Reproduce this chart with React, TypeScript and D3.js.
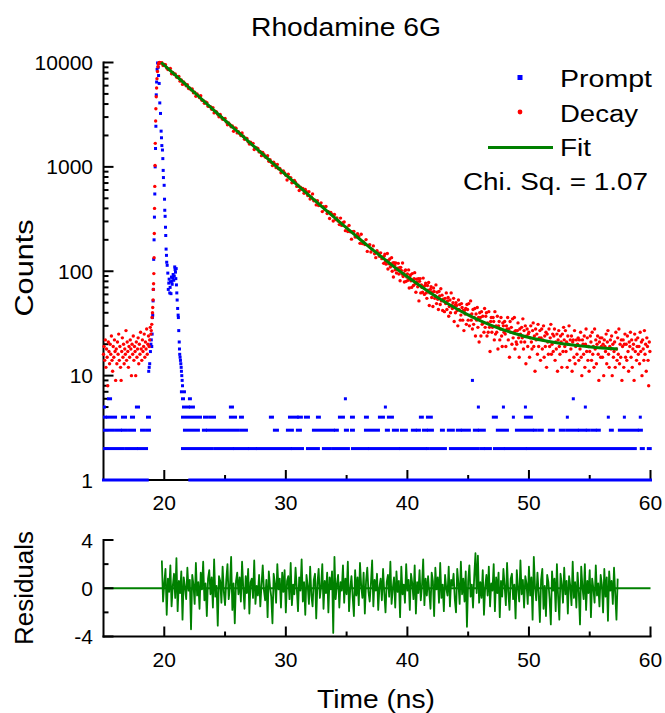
import React from "react";
import * as d3 from "d3";

const FONT = "'Liberation Sans', Arial, Helvetica, sans-serif";

// ---------- Axis ticks ----------
const xMajorTicks = [20, 30, 40, 50, 60];
const xMinorTicks = [25, 35, 45, 55];
const yMajorTicks = [1, 10, 100, 1000, 10000];
const resMajorTicks = [-4, 0, 4];
const resMinorTicks = [-2, 2];

// ---------- Decay (red) ----------
// baseline before the rise: 15.00 ns, step 0.05 ns
const decayBaseStart = 15.0;
const decayBaseStep = 0.05;
const decayBaseline = [
  16, 19, 14, 22, 12, 18, 15, 8, 21, 17,
  13, 20, 16, 24, 14, 11, 19, 15, 22, 17,
  9, 18, 13, 21, 16, 25, 14, 19, 12, 9,
  17, 23, 15, 20, 13, 18, 16, 27, 14, 21,
  17, 12, 19, 15, 22, 18, 10, 20, 16, 24,
  14, 19, 17, 10, 21, 15, 18, 23, 13, 20,
  16, 26, 18, 14, 22, 17, 19, 25, 15, 21,
  18, 28, 16, 20, 24, 19, 22, 29,
];
// rising edge
const decayRiseT = [18.90, 18.93, 18.97, 19.00, 19.03, 19.05, 19.08, 19.10, 19.12, 19.14, 19.16, 19.18, 19.20, 19.22, 19.24, 19.26, 19.29, 19.31, 19.34, 19.37, 19.40, 19.44, 19.48, 19.52, 19.56, 19.60, 19.65, 19.70];
const decayRiseC = [25, 27, 31, 36, 40, 45, 53, 67, 76, 95, 135, 230, 400, 650, 1030, 1680, 2750, 3600, 4700, 5700, 7000, 8200, 9100, 9700, 9900, 10000, 9950, 9900];
// main decay: 19.8 ns, step 0.1 ns
const decayMainStart = 19.8;
const decayMainStep = 0.1;
const decayMain = [
  9953, 9352, 9597, 9527, 8871, 8549, 8557, 8767, 7804, 8032,
  7702, 7763, 7244, 7195, 7338, 6630, 6788, 6168, 6513, 6278,
  5990, 6112, 5633, 5666, 5489, 5585, 5136, 5205, 4755, 4993,
  4801, 4603, 4799, 4352, 4322, 4061, 4199, 4128, 3803, 3798,
  3781, 3571, 3699, 3289, 3404, 3364, 3186, 3023, 3172, 2991,
  2853, 2885, 2912, 2693, 2535, 2629, 2535, 2424, 2468, 2192,
  2359, 2350, 2116, 2169, 2085, 1993, 2113, 1963, 1842, 1887,
  1874, 1740, 1657, 1728, 1648, 1680, 1466, 1519, 1514, 1500,
  1391, 1399, 1281, 1374, 1314, 1245, 1230, 1280, 1133, 1171,
  1105, 1029, 1106, 1054, 983, 1053, 960, 968, 877, 906,
  914, 875, 831, 749, 850, 783, 789, 705, 711, 743,
  710, 650, 669, 593, 640, 613, 620, 559, 607, 578,
  531, 579, 493, 511, 551, 474, 480, 432, 474, 426,
  432, 452, 373, 415, 389, 417, 357, 371, 320, 366,
  350, 303, 350, 312, 324, 303, 280, 323, 275, 292,
  296, 245, 263, 240, 275, 239, 203, 239, 241, 213,
  214, 229, 215, 185, 226, 184, 191, 180, 201, 155,
  177, 180, 153, 162, 175, 147, 135, 157, 150, 139,
  150, 132,
];
// tail: 38.0 ns, step 0.05 ns
const decayTailStart = 38.0;
const decayTailStep = 0.05;
const decayTailA = [
  137, 119, 140, 146, 124, 117, 127, 148, 105, 127, 118, 131, 110, 117, 135, 100, 120, 88, 121, 114,
  103, 120, 96, 107, 103, 119, 94, 108, 81, 109, 102, 94, 120, 89, 95, 79, 101, 103, 80, 88,
  94, 82, 103, 69, 88, 92, 81, 70, 95, 82, 73, 85, 97, 76, 63, 84, 79, 71, 85, 52,
  80, 85, 62, 74, 70, 63, 86, 71, 60, 73, 77, 62, 55, 73, 66, 78, 47, 62, 67, 71,
  56, 63, 46, 69, 64, 55, 58, 74, 49, 63, 54, 43, 64, 58, 48, 68, 52, 59, 42, 54,
  52, 41, 55, 49, 62, 43, 52, 56, 37, 46, 53, 40, 62, 47, 44, 50, 55, 33, 47, 40,
  50, 47, 42, 30, 53, 43, 48, 34, 38, 49, 45, 34, 42, 27, 42, 39, 44, 31, 48, 43,
  34, 49, 30, 38, 52, 34, 39, 28, 43, 31, 36, 44, 24, 39, 34, 45, 29, 36, 21, 40,
  36, 24, 41, 31, 37, 32, 26, 44, 29, 37, 40, 24, 32, 26, 41, 29, 17, 33, 36, 26,
  29, 36, 33, 22, 41, 25, 30, 26, 37, 18, 30, 33, 22, 28, 36, 24, 19, 32, 30, 26,
];
const decayTailB = [
  33, 25, 19, 30, 28, 36, 22, 28, 15, 33, 26, 29, 20, 35, 23, 26, 36, 18, 27, 21,
  20, 27, 32, 23, 15, 28, 25, 21, 29, 23, 35, 18, 27, 21, 30, 13, 24, 28, 19, 25,
  26, 15, 23, 30, 21, 18, 27, 32, 19, 24, 11, 28, 22, 25, 16, 31, 19, 23, 27, 14,
  23, 28, 18, 22, 30, 15, 24, 19, 26, 12, 25, 21, 16, 28, 19, 23, 31, 16, 20, 25,
  17, 24, 28, 14, 21, 18, 25, 11, 22, 27, 19, 16, 24, 21, 12, 25, 17, 29, 22, 19,
  27, 17, 21, 12, 24, 20, 30, 14, 22, 18, 24, 11, 21, 22, 15, 27, 13, 19, 22, 16,
  20, 23, 14, 22, 18, 26, 15, 10, 22, 20, 16, 24, 12, 20, 28, 17, 23, 14, 19, 11,
  17, 24, 21, 14, 26, 16, 19, 12, 28, 18, 22, 13, 20, 24, 16, 9, 21, 23, 15, 19,
  23, 15, 20, 10, 22, 19, 17, 25, 13, 21, 27, 16, 12, 19, 22, 18, 24, 10, 20, 15,
  17, 21, 12, 26, 18, 14, 23, 16, 28, 13, 20, 15, 22, 9, 19, 22, 12, 20, 25, 15,
  20, 14, 24, 17, 11, 21, 19, 26, 15, 22, 12, 18, 20, 9, 25, 17, 22, 14, 19, 23,
  16, 19, 13, 26, 17, 21, 10, 22, 18, 14, 27, 16, 20, 11, 23, 19, 14, 8, 21, 17,
];

// ---------- Fit (green) ----------
const fitT = [19.75, 20.75, 21.75, 22.75, 23.75, 24.75, 25.75, 26.75, 27.75, 28.75, 29.75, 30.75, 31.75, 32.75, 33.75, 34.75, 35.75, 36.75, 37.75, 38.75, 39.75, 40.75, 41.75, 42.75, 43.75, 44.75, 45.75, 46.75, 47.75, 48.75, 49.75, 50.75, 51.75, 52.75, 53.75, 54.75, 55.75, 56.75, 57.3];
const fitC = [10000, 7853, 6157, 4828, 3787, 2971, 2332, 1831, 1438, 1131, 890, 701, 553, 437, 346, 275, 219, 175, 141, 114, 93, 76.6, 63.7, 53.6, 45.7, 39.5, 34.6, 30.8, 27.8, 25.5, 23.6, 22.2, 21.1, 20.2, 19.5, 19.0, 18.5, 18.2, 18.0];

// ---------- Prompt (blue) ----------
const promptPeakT = [
  18.72, 18.76, 18.80, 18.86, 18.90, 18.93, 18.97, 19.00, 19.02, 19.05,
  19.08, 19.10, 19.13, 19.16, 19.19, 19.22, 19.25, 19.28, 19.31, 19.34,
  19.37, 19.41, 19.45, 19.50, 19.53, 19.58, 19.63, 19.69, 19.74, 19.77,
  19.80, 19.85, 19.88, 19.91, 19.93, 19.99, 20.02, 20.04, 20.07, 20.10,
  20.12, 20.15, 20.18, 20.20, 20.24, 20.29, 20.33, 20.37, 20.40, 20.45,
  20.48, 20.51, 20.55, 20.59, 20.62, 20.65, 20.69, 20.73, 20.78, 20.82,
  20.86, 20.89, 20.92, 20.95, 20.98, 21.00, 21.03, 21.06, 21.10, 21.14,
  21.16, 21.19, 21.23, 21.25, 21.27, 21.30, 21.33, 21.36, 21.39, 21.41,
  21.44, 21.47, 21.50,
];
const promptPeakC = [
  11, 12, 13, 17, 20, 22, 19, 25, 36, 38,
  52, 67, 130, 200, 330, 550, 1000, 1500, 2450, 4900,
  6500, 8600, 9900, 9000, 7500, 6300, 4100, 3250, 2200, 1900,
  1600, 1450, 1200, 925, 790, 666, 490, 384, 336, 264,
  220, 163, 142, 122, 114, 96, 67, 77, 84, 62,
  70, 79, 61, 88, 80, 75, 86, 93, 82, 90,
  110, 104, 98, 85, 106, 74, 62, 53, 44, 38,
  36, 27, 21, 18, 16, 15, 14, 13, 12, 11,
  10, 9, 8,
];
// runs of equal low counts: [start ns, end ns]
const promptRuns1 = [[15.0, 18.6], [22.1, 60.0]];
const promptRuns2 = [[15.08, 16.64], [16.89, 17.71], [17.88, 18.54], [21.50, 23.96], [24.21, 25.61], [25.77, 26.84], [27.01, 27.50], [27.66, 30.38], [30.54, 31.37], [31.78, 32.68], [33.09, 33.67], [33.92, 35.15], [35.48, 36.71], [36.88, 39.26], [39.43, 41.48], [41.65, 41.73], [41.97, 43.13], [43.54, 45.84], [46.09, 46.25], [46.42, 46.83], [47.16, 47.90], [48.06, 49.71], [49.87, 58.75], [59.24, 59.41], [59.82, 59.98]];
const promptRuns3 = [[15.08, 15.82], [16.07, 16.40], [16.56, 16.89], [17.14, 17.55], [18.13, 18.29], [18.54, 18.78], [21.66, 22.81], [23.22, 23.39], [23.55, 25.20], [25.44, 26.10], [26.35, 26.76], [29.06, 29.31], [30.13, 30.54], [30.95, 31.20], [32.27, 33.92], [34.08, 34.24], [34.90, 35.07], [35.40, 35.56], [36.55, 37.62], [38.27, 38.44], [38.85, 39.18], [39.51, 39.92], [40.41, 40.66], [40.82, 40.99], [41.32, 41.56], [41.73, 42.06], [42.80, 42.96], [43.37, 43.78], [44.11, 44.36], [44.52, 45.10], [45.51, 45.76], [45.92, 46.33], [47.40, 48.23], [48.97, 50.28], [50.45, 50.61], [50.86, 51.10], [51.68, 52.01], [52.58, 52.91], [53.16, 53.98], [54.15, 54.64], [54.80, 54.97], [55.22, 55.46], [55.63, 55.79], [56.70, 56.86], [57.44, 58.92], [59.08, 59.25]];
const promptRuns4 = [[15.08, 15.16], [15.33, 15.99], [16.56, 16.81], [17.30, 17.47], [18.62, 18.78], [21.50, 22.98], [23.31, 23.55], [23.80, 24.13], [25.44, 25.86], [26.27, 26.43], [28.73, 28.90], [30.30, 30.95], [31.04, 31.28], [31.61, 31.86], [32.60, 32.76], [34.41, 34.74], [35.40, 35.56], [36.55, 36.71], [37.70, 38.03], [38.44, 38.77], [41.07, 41.23], [41.65, 41.97], [47.07, 47.32], [48.72, 48.72], [49.71, 50.20], [53.16, 53.16], [56.53, 56.53], [57.85, 57.85], [59.16, 59.16]];
const promptRuns5 = [[15.08, 15.08], [17.71, 17.88], [21.58, 21.99], [22.15, 22.40], [25.44, 25.61], [38.19, 38.19], [45.84, 45.84], [47.90, 47.90], [49.71, 49.71], [54.64, 54.64]];
const promptRuns6 = [[15.41, 15.58], [21.50, 21.58], [22.07, 22.15], [34.90, 34.90], [53.65, 53.65]];
const promptRuns7 = [[21.41, 21.66]];
const promptRuns9 = [[45.35, 45.35]];

// ---------- Residuals ----------
const residualStep = 0.1;
const residualsStartA = 19.8;
const residualsA = [
  2.3, -1.1, 0.4, 1.6, -2.2, 0.8, -0.3, 1.9, -1.5, 0.2, 1.2, -0.8, 2.5, -1.9, 0.6, -0.4, 1.4, -2.6, 0.9, 0.1,
  -0.9, 1.7, -0.2, 0.7, -3.4, 1.1, 0.3, -1.3, 2.1, -0.6, 0.5, -1.7, 1.3, -0.1, 2.2, -1.0, 0.4, -2.3, 0.8, 1.5,
  -0.5, 0.9, -1.6, 2.4, -0.7, 0.2, -3.1, 1.0, 0.6, -1.2, 1.8, -0.3, -1.4, 0.7, 2.0, -0.9, 0.1, 2.6, -1.8, 0.4,
  -2.9, 0.6, 1.3, -0.5, 0.9, -1.1, 2.2, 0.0, -1.7, 1.0, -0.4, 1.6, -2.1, 0.5, 0.8, -0.8, 2.3, -1.3, 0.2, -0.6,
  1.1, -1.5, 0.3, 1.9, -0.2, -1.0, 0.7, -2.4, 1.4, 0.1, -0.7, -2.9, 1.2, 0.4, -1.2, 2.0, -0.1, 0.8, -1.6, 1.3,
];
const residualsStartB = 29.8;
const residualsB = [
  -0.3, 1.5, -2.0, 0.6, 1.0, -0.9, 2.1, -1.4, 0.3, -0.5, 1.7, 0.0, -1.9, 0.9, -0.2, 2.4, -1.1, 0.5, -2.2, 1.1,
  0.2, -1.3, 1.8, -0.6, -1.5, 0.7, 1.2, -2.5, 0.4, 1.6, -0.8, 0.1, 2.0, -1.7, 0.6, -0.4, 1.3, -2.0, 0.9, -0.1,
  1.4, -3.7, 2.6, -0.9, 0.3, 1.1, -1.6, 0.5, -0.2, 1.9, -1.2, 0.8, -0.5, 2.2, -1.9, 0.0, 1.0, -0.7, -2.3, 1.5,
  -0.6, 0.9, -1.4, 2.1, 0.2, -0.8, 1.3, -2.1, 0.6, 1.7, -0.3, -1.1, 0.4, 2.3, -1.5, 0.7, -0.2, 1.2, -1.8, 0.1,
  0.8, -1.0, 1.6, -0.4, -2.0, 0.5, 1.1, -0.7, 2.2, -1.3, 0.0, 0.9, -1.6, 1.4, -0.3, 0.6, -2.4, 1.8, -0.5, 0.3,
];
const residualsStartC = 39.8;
const residualsC = [
  -1.2, 2.0, -0.2, 0.7, -1.8, 1.2, 0.4, -0.9, 1.9, -2.1, 0.5, -0.4, 1.5, -1.0, 0.2, 2.4, -1.4, 0.8, -0.6, 1.0,
  -0.3, -1.7, 1.3, 0.6, -2.3, 1.7, -0.1, 0.9, -1.2, 2.1, -0.8, 0.3, -1.9, 1.1, 0.0, -0.6, 1.8, -1.5, 0.7, 0.2,
  1.2, -0.9, -2.0, 1.6, 0.4, -1.3, 2.2, -0.5, 0.8, -1.1, 1.4, -3.2, 0.6, 1.9, -0.7, 0.3, -1.6, 1.0, 2.9, -0.4,
  2.7, -1.2, 0.5, -0.8, 1.5, -2.2, 0.1, 1.1, -0.6, 1.8, -1.5, 0.4, -0.2, 2.0, -1.9, 0.9, -0.4, 1.3, -2.4, 0.6,
  -0.7, 1.6, 0.2, -1.4, 2.1, -0.3, -1.8, 0.8, 1.2, -0.9, 0.3, -2.5, 1.5, 0.0, -1.1, 2.3, -0.5, 0.7, -1.6, 1.0,
];
const residualsStartD = 49.8;
const residualsD = [
  0.4, -1.3, 1.8, -0.6, 0.9, -2.6, 2.6, 0.1, -1.0, 1.3, -0.4, -2.8, 0.7, 1.6, -1.7, 0.2, -2.3, 1.1, 0.5, -0.9,
  -3.0, 1.4, -0.2, 0.8, -1.9, 2.0, -0.7, -2.6, 1.2, 0.3, -1.2, 1.7, -0.5, 0.6, -2.1, 1.0, 0.2, -1.4, 2.2, -0.8,
  0.5, -1.6, 1.3, -0.3, -3.0, 1.8, 0.1, -0.9, 2.0, -1.8, 0.6, -0.4, 1.5, -2.4, 0.8, 0.0, -1.2, 1.9, -0.6, 0.4,
  -1.5, 1.1, 0.3, -2.0, 1.6, -0.7, 0.9, -2.7, 1.4, -0.2, 0.6, -1.3, 1.7, -0.5, -2.6, 0.8,
];

type Pt = { t: number; v: number };
const onGrid = (start: number, step: number, values: number[]): Pt[] =>
  values.map((v, i) => ({ t: start + i * step, v }));

const BLUE = "#0000ff";
const RED = "#ff0000";
const GREEN = "#008000";

export default function App() {
  const x = d3.scaleLinear().domain([15, 60]).range([103.5, 650.5]);
  const y = d3.scaleLog().domain([1, 10000]).range([480, 62.5]);
  const yr = d3.scaleLinear().domain([-4, 4]).range([636.5, 540]);

  const decayPts: Pt[] = [
    ...onGrid(decayBaseStart, decayBaseStep, decayBaseline),
    ...decayRiseT.map((t, i) => ({ t, v: decayRiseC[i] })),
    ...onGrid(decayMainStart, decayMainStep, decayMain),
    ...onGrid(decayTailStart, decayTailStep, decayTailA),
    ...onGrid(decayTailStart + decayTailA.length * decayTailStep, decayTailStep, decayTailB),
  ];
  const promptPeak: Pt[] = promptPeakT.map((t, i) => ({ t, v: promptPeakC[i] }));
  const promptRuns: { c: number; runs: number[][] }[] = [
    { c: 1, runs: promptRuns1 },
    { c: 2, runs: promptRuns2 },
    { c: 3, runs: promptRuns3 },
    { c: 4, runs: promptRuns4 },
    { c: 5, runs: promptRuns5 },
    { c: 6, runs: promptRuns6 },
    { c: 7, runs: promptRuns7 },
    { c: 9, runs: promptRuns9 },
  ];
  const fitPts: Pt[] = fitT.map((t, i) => ({ t, v: fitC[i] }));
  const resPts: Pt[] = [
    ...onGrid(residualsStartA, residualStep, residualsA),
    ...onGrid(residualsStartB, residualStep, residualsB),
    ...onGrid(residualsStartC, residualStep, residualsC),
    ...onGrid(residualsStartD, residualStep, residualsD),
  ];

  const fitPath = d3
    .line<Pt>()
    .x((d) => x(d.t))
    .y((d) => y(d.v))
    .curve(d3.curveMonotoneX)(fitPts) as string;
  const resPath = d3
    .line<Pt>()
    .x((d) => x(d.t))
    .y((d) => yr(d.v))(resPts) as string;

  const yAllTicks = y.ticks();
  const isMajor = (v: number) => Math.abs(Math.log10(v) - Math.round(Math.log10(v))) < 1e-9;

  const x0 = x(15);
  const x1 = x(60);
  const yBottom = y(1);
  const yTop = y(10000);
  const rBottom = yr(-4);
  const rTop = yr(4);

  return (
    <svg
      width={665}
      height={713}
      style={{ position: "absolute", left: 0, top: 0, background: "#fff" }}
      fontFamily={FONT}
    >
      <rect x={0} y={0} width={665} height={713} fill="#fff" />
      {/* Title */}
      <text x={346} y={36} fontSize={25} textAnchor="middle" textLength={190} lengthAdjust="spacingAndGlyphs">
        Rhodamine 6G
      </text>

      {/* ===== Top panel axes ===== */}
      <g stroke="#000" strokeWidth={2}>
        <line x1={x0} y1={yTop - 1} x2={x0} y2={yBottom + 1} />
        <line x1={x0 - 1} y1={yBottom} x2={x1 + 1} y2={yBottom} />
        {yAllTicks.map((v) => (
          <line key={"yt" + v} x1={x0} x2={x0 + (isMajor(v) ? 10 : 5)} y1={y(v)} y2={y(v)} />
        ))}
        {xMajorTicks.map((v) => (
          <line key={"xt" + v} x1={x(v)} x2={x(v)} y1={yBottom} y2={yBottom - 10} />
        ))}
        {xMinorTicks.map((v) => (
          <line key={"xm" + v} x1={x(v)} x2={x(v)} y1={yBottom} y2={yBottom - 5} />
        ))}
      </g>
      <g fontSize={21} fill="#000">
        {yMajorTicks.map((v) => (
          <text key={"yl" + v} x={93} y={y(v) + 7.5} textAnchor="end">
            {v}
          </text>
        ))}
        {xMajorTicks.map((v) => (
          <text key={"xl" + v} x={x(v)} y={510} textAnchor="middle">
            {v}
          </text>
        ))}
      </g>
      <text
        transform={`translate(33,268) rotate(-90)`}
        fontSize={26}
        textAnchor="middle"
        textLength={97}
        lengthAdjust="spacingAndGlyphs"
      >
        Counts
      </text>

      {/* ===== Prompt ===== */}
      <g fill={BLUE}>
        {promptRuns.map((row) =>
          row.runs.map((r, i) => (
            <rect
              key={"pr" + row.c + "_" + i}
              x={x(r[0]) - 1.5}
              y={y(row.c) - 1.5}
              width={x(r[1]) - x(r[0]) + 3}
              height={3}
            />
          ))
        )}
        {promptPeak.map((d, i) => (
          <rect key={"pp" + i} x={x(d.t) - 1.5} y={y(d.v) - 1.5} width={3} height={3} />
        ))}
      </g>

      {/* ===== Decay ===== */}
      <g fill={RED}>
        {decayPts.map((d, i) => (
          <circle key={"dc" + i} cx={x(d.t)} cy={y(d.v)} r={1.7} />
        ))}
      </g>

      {/* ===== Fit ===== */}
      <path d={fitPath} fill="none" stroke={GREEN} strokeWidth={3} />

      {/* ===== Legend ===== */}
      <rect x={517.5} y={75} width={5} height={5} fill={BLUE} />
      <text x={560} y={86.5} fontSize={23} textLength={92} lengthAdjust="spacingAndGlyphs">
        Prompt
      </text>
      <circle cx={520} cy={112} r={2.4} fill={RED} />
      <text x={560} y={121.5} fontSize={23} textLength={78} lengthAdjust="spacingAndGlyphs">
        Decay
      </text>
      <line x1={488} x2={553} y1={147.5} y2={147.5} stroke={GREEN} strokeWidth={3} />
      <text x={560} y={156} fontSize={23} textLength={31} lengthAdjust="spacingAndGlyphs">
        Fit
      </text>
      <text x={463} y={190} fontSize={23} textLength={185} lengthAdjust="spacingAndGlyphs">
        Chi. Sq. = 1.07
      </text>

      {/* ===== Residual panel ===== */}
      <line x1={x0} x2={x1} y1={yr(0)} y2={yr(0)} stroke={GREEN} strokeWidth={1.8} />
      <path d={resPath} fill="none" stroke={GREEN} strokeWidth={1.8} strokeLinejoin="round" />
      <g stroke="#000" strokeWidth={2}>
        <line x1={x0} y1={rTop - 1} x2={x0} y2={rBottom + 1} />
        <line x1={x0 - 1} y1={rBottom} x2={x1 + 1} y2={rBottom} />
        {resMajorTicks.map((v) => (
          <line key={"rt" + v} x1={x0} x2={x0 + 10} y1={yr(v)} y2={yr(v)} />
        ))}
        {resMinorTicks.map((v) => (
          <line key={"rm" + v} x1={x0} x2={x0 + 5} y1={yr(v)} y2={yr(v)} />
        ))}
        {xMajorTicks.map((v) => (
          <line key={"rxt" + v} x1={x(v)} x2={x(v)} y1={rBottom} y2={rBottom - 10} />
        ))}
        {xMinorTicks.map((v) => (
          <line key={"rxm" + v} x1={x(v)} x2={x(v)} y1={rBottom} y2={rBottom - 5} />
        ))}
      </g>
      <g fontSize={21} fill="#000">
        {resMajorTicks.map((v) => (
          <text key={"rl" + v} x={93} y={yr(v) + 7.5} textAnchor="end">
            {v < 0 ? "-" + Math.abs(v) : String(v)}
          </text>
        ))}
        {xMajorTicks.map((v) => (
          <text key={"rxl" + v} x={x(v)} y={667} textAnchor="middle">
            {v}
          </text>
        ))}
      </g>
      <text
        transform={`translate(33,588) rotate(-90)`}
        fontSize={26}
        textAnchor="middle"
        textLength={114}
        lengthAdjust="spacingAndGlyphs"
      >
        Residuals
      </text>
      <text x={376} y={708} fontSize={26} textAnchor="middle" textLength={118} lengthAdjust="spacingAndGlyphs">
        Time (ns)
      </text>
    </svg>
  );
}
